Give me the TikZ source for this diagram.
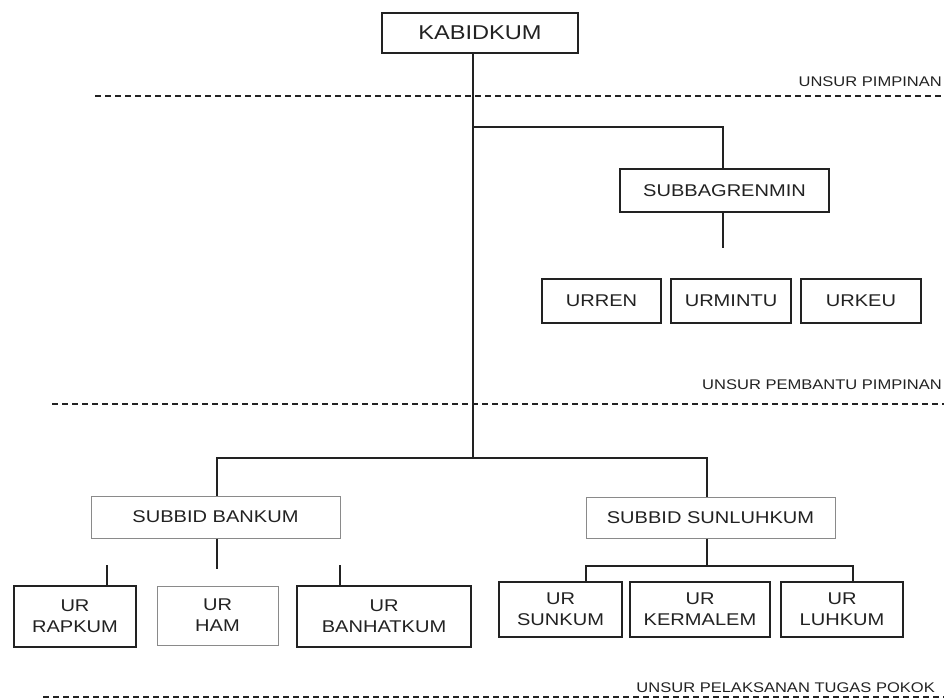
\documentclass[tikz,border=0pt]{standalone}
\usepackage{fontspec}
\setmainfont[FakeStretch=1.18]{Liberation Sans}
\definecolor{ink}{HTML}{222222}
\definecolor{lightink}{HTML}{8A8A8A}
\begin{document}
\begin{tikzpicture}[x=1pt,y=-1pt,
  box/.style={draw=ink,line width=1.6pt,inner sep=0pt,text=ink,align=center,
    font=\fontsize{17}{21}\selectfont},
  lightbox/.style={box,draw=lightink,line width=1pt},
  conn/.style={draw=ink,line width=1.8pt},
  sep/.style={draw=ink,line width=1.3pt,dash pattern=on 6pt off 4pt},
  lbl/.style={anchor=east,inner sep=0pt,text=ink,font=\fontsize{14}{16}\selectfont}]
\useasboundingbox (0,0) rectangle (944,698);

% top
\node[box,minimum width=196pt,minimum height=40pt,font=\fontsize{20}{24}\selectfont] (kab) at (480,33) {KABIDKUM};
\draw[sep] (95,96) -- (944,96);
\node[lbl] (l1) at (942,82) {UNSUR PIMPINAN};

% support
\coordinate (j1) at (473,127);
\coordinate (j2) at (473,458);
\node[box,minimum width=209pt,minimum height=43pt] (sbr) at (724.5,190.5) {SUBBAGRENMIN};
\coordinate (s1) at (723,248);
\node[box,minimum width=119pt,minimum height=44pt] (urren) at (601.5,301) {URREN};
\node[box,minimum width=120pt,minimum height=44pt] (urmin) at (731,301) {URMINTU};
\node[box,minimum width=120pt,minimum height=44pt] (urkeu) at (861,301) {URKEU};
\draw[conn] (kab.south -| j1) -- (j2);
\draw[conn] (j1) -| (sbr.north -| s1);
\draw[conn] (sbr.south -| s1) -- (s1);

\draw[sep] (52,404) -- (944,404);
\node[lbl] (l2) at (942,385) {UNSUR PEMBANTU PIMPINAN};

% subbid bankum
\node[lightbox,minimum width=249pt,minimum height=42pt] (sbb) at (215.5,517) {SUBBID BANKUM};
\coordinate (b0) at (217,458);
\coordinate (b1) at (217,569);
\draw[conn] (j2) -- (b0) -- (sbb.north -| b0);
\draw[conn] (sbb.south -| b1) -- (b1);
\node[box,minimum width=122pt,minimum height=61pt] (rap) at (75,616.5) {UR\\RAPKUM};
\node[lightbox,minimum width=121pt,minimum height=59pt] (ham) at (217.5,615.5) {UR\\HAM};
\node[box,minimum width=174pt,minimum height=61pt] (banh) at (384,616.5) {UR\\BANHATKUM};
\coordinate (r1) at (107,565);
\coordinate (h1) at (340,565);
\draw[conn] (r1) -- (rap.north -| r1);
\draw[conn] (h1) -- (banh.north -| h1);

% subbid sunluhkum
\node[lightbox,minimum width=249pt,minimum height=41pt] (sbs) at (710.5,517.5) {SUBBID SUNLUHKUM};
\coordinate (c0) at (707,458);
\coordinate (c1) at (707,566);
\draw[conn] (j2) -- (c0) -- (sbs.north -| c0);
\node[box,minimum width=123pt,minimum height=55pt] (sun) at (560.5,609.5) {UR\\SUNKUM};
\node[box,minimum width=140pt,minimum height=55pt] (ker) at (700,609.5) {UR\\KERMALEM};
\node[box,minimum width=122pt,minimum height=55pt] (luh) at (842,609.5) {UR\\LUHKUM};
\coordinate (k1) at (586,566);
\coordinate (k2) at (853,566);
\draw[conn] (sbs.south -| c1) -- (c1);
\draw[conn] (sun.north -| k1) -- (k1) -- (k2) -- (luh.north -| k2);

\node[lbl] (l3) at (935,688) {UNSUR PELAKSANAN TUGAS POKOK};
\draw[sep] (43,697) -- (944,697);
\end{tikzpicture}
\end{document}
